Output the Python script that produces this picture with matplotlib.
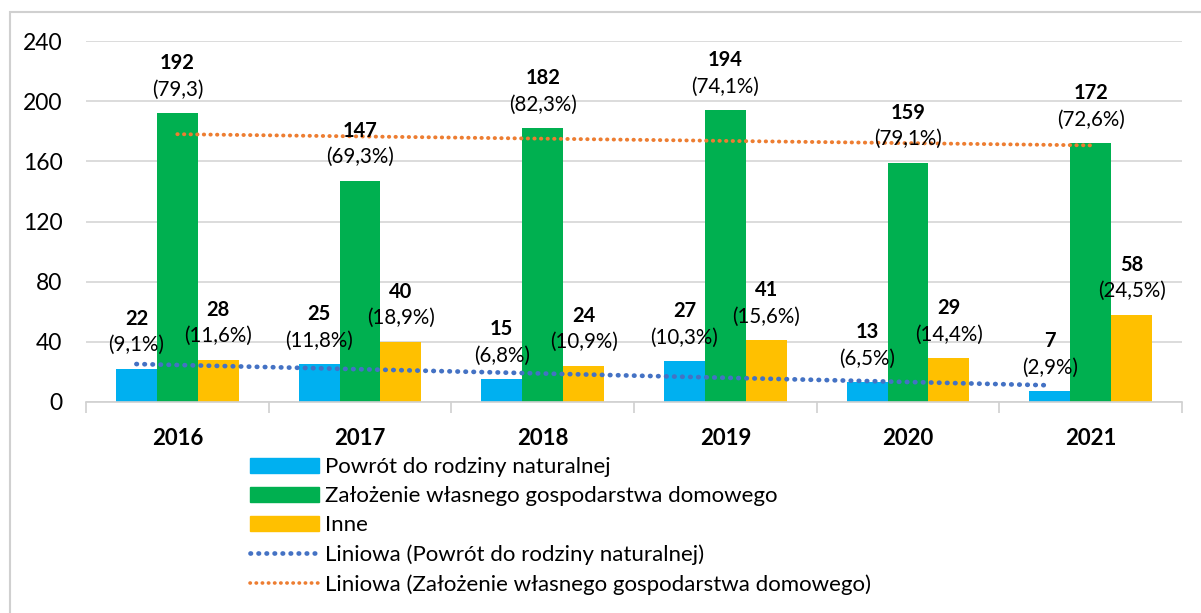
import matplotlib.pyplot as plt
import numpy as np
from matplotlib.patches import Patch, Rectangle
from matplotlib.lines import Line2D

plt.rcParams['font.family'] = ['Lato', 'DejaVu Sans']

years = ['2016', '2017', '2018', '2019', '2020', '2021']
powrot = [22, 25, 15, 27, 13, 7]
zalozenie = [192, 147, 182, 194, 159, 172]
inne = [28, 40, 24, 41, 29, 58]

powrot_pct = ['(9,1%)', '(11,8%)', '(6,8%)', '(10,3%)', '(6,5%)', '(2,9%)']
zalozenie_pct = ['(79,3)', '(69,3%)', '(82,3%)', '(74,1%)', '(79,1%)', '(72,6%)']
inne_pct = ['(11,6%)', '(18,9%)', '(10,9%)', '(15,6%)', '(14,4%)', '(24,5%)']

labels = ['Powrót do rodziny naturalnej',
          'Założenie własnego gospodarstwa domowego',
          'Inne']
colors = ['#00B0F0', '#00B050', '#FFC000']

fig = plt.figure(figsize=(12.01, 6.13), dpi=100)
ax = fig.add_axes([86 / 1201, 1 - 402 / 613, (1182 - 86) / 1201, (402 - 41) / 613])

# outer chart border (only top/left visible in the crop)
fig.patches.append(Rectangle((10 / 1201, -0.1), 1.2, 1 - 12 / 613 + 0.1,
                             transform=fig.transFigure, fill=False,
                             edgecolor='#D0D0D0', lw=1.5))

x = np.arange(len(years))
w = 0.224
series = [(powrot, powrot_pct), (zalozenie, zalozenie_pct), (inne, inne_pct)]
for i, ((vals, pcts), c) in enumerate(zip(series, colors)):
    xs = x + (i - 1) * w
    ax.bar(xs, vals, width=w, color=c, zorder=2)
    for xi, v, p in zip(xs, vals, pcts):
        ax.annotate(p, (xi, v), xytext=(0, 17), textcoords='offset points',
                    ha='center', va='center', fontsize=14.8, zorder=4)
        ax.annotate(str(v), (xi, v), xytext=(0, 36), textcoords='offset points',
                    ha='center', va='center', fontsize=14.5, fontweight='bold', zorder=4)

# linear trend lines
dot = (0, (0.1, 1.6))
for vals, i, c, lw in [(powrot, 0, '#4472C4', 3.4), (zalozenie, 1, '#ED7D31', 2.8)]:
    k, b = np.polyfit(x, vals, 1)
    ax.plot(x + (i - 1) * w, k * x + b, color=c, lw=lw, linestyle=dot,
            dash_capstyle='round', zorder=3)

ax.set_xlim(-0.5, 5.5)
ax.set_ylim(0, 240)
ax.set_yticks(range(0, 241, 40))
ax.set_xticks(x)
ax.set_xticklabels(years, fontweight='bold', fontsize=16)
ax.tick_params(axis='y', length=0, labelsize=16.5, pad=17)
ax.tick_params(axis='x', length=0, pad=19)
ax.set_xticks(np.arange(-0.5, 6, 1), minor=True)
ax.tick_params(axis='x', which='minor', length=8, color='#D0D0D0', width=1.2)
ax.grid(axis='y', color='#D9D9D9', lw=1.3, zorder=0)
for s in ['top', 'right', 'left']:
    ax.spines[s].set_visible(False)
ax.spines['bottom'].set_color('#D0D0D0')
ax.spines['bottom'].set_linewidth(1.2)

handles = [Patch(color=c) for c in colors] + [
    Line2D([], [], color='#4472C4', lw=3.4, linestyle=dot, dash_capstyle='round'),
    Line2D([], [], color='#ED7D31', lw=2.6, linestyle=dot, dash_capstyle='round'),
]
leg_labels = labels + ['Liniowa (Powrót do rodziny naturalnej)',
                       'Liniowa (Założenie własnego gospodarstwa domowego)']
fig.legend(handles, leg_labels, loc='upper left',
           bbox_to_anchor=(239 / 1201, 1 - 446 / 613), frameon=False,
           fontsize=16, handlelength=3.1, handleheight=0.63,
           handletextpad=0.27, labelspacing=0.41, borderpad=0)

fig.savefig('out.png', dpi=100)
